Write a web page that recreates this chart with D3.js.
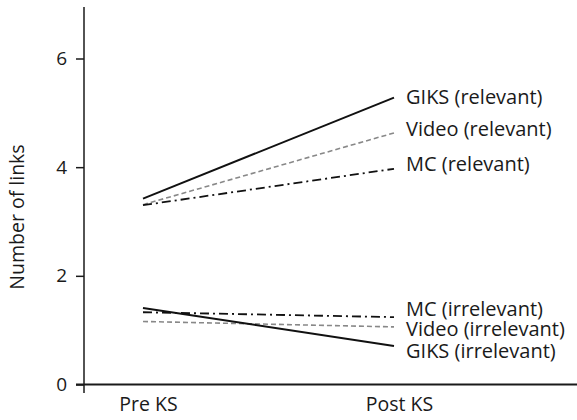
<!DOCTYPE html>
<html><head><meta charset="utf-8">
<script src="https://cdn.jsdelivr.net/npm/d3@7"></script>
<style>body{margin:0;background:#fff}text{font-family:"Open Sans",sans-serif;fill:#1a1a1a}</style>
</head><body><svg id="c" width="577" height="420"></svg>
<script>
const categories = ["Pre KS", "Post KS"];
const seriesNames = ["GIKS (relevant)", "Video (relevant)", "MC (relevant)", "MC (irrelevant)", "Video (irrelevant)", "GIKS (irrelevant)"];
const giksRelevant = [3.42, 5.28];
const videoRelevant = [3.31, 4.63];
const mcRelevant = [3.30, 3.97];
const mcIrrelevant = [1.33, 1.24];
const videoIrrelevant = [1.16, 1.06];
const giksIrrelevant = [1.41, 0.71];
const labelValues = [5.3, 4.7, 4.05, 1.39, 1.03, 0.62];
const yTicks = [0, 2, 4, 6];
const seriesStyle = ["solid", "dash", "dashdot", "dashdot", "dash", "solid"];

const values = [giksRelevant, videoRelevant, mcRelevant, mcIrrelevant, videoIrrelevant, giksIrrelevant];
const svg = d3.select("#c");
const y = d3.scaleLinear().domain([0, 6]).range([384.5, 58.5]);
const x = d3.scalePoint().domain(categories).range([143, 394]);
const FS = 20;

// y axis
const yAxis = svg.append("g").attr("transform", "translate(84,0)")
  .call(d3.axisLeft(y).tickValues(yTicks).tickFormat(d3.format("d")).tickSize(8).tickSizeOuter(0).tickPadding(9));
yAxis.select(".domain").remove();
yAxis.selectAll("line").attr("stroke", "#1a1a1a").attr("stroke-width", 1.5);
yAxis.selectAll("text").attr("font-size", 19).attr("font-family", "Open Sans, sans-serif").attr("fill", "#1a1a1a");
svg.append("line").attr("x1", 84).attr("x2", 84).attr("y1", 7).attr("y2", 393).attr("stroke", "#1a1a1a").attr("stroke-width", 1.5);

// x axis
svg.append("line").attr("x1", 76).attr("x2", 577).attr("y1", y(0)).attr("y2", y(0)).attr("stroke", "#1a1a1a").attr("stroke-width", 1.8);
const xAxis = svg.append("g").attr("transform", `translate(5,${y(0)})`)
  .call(d3.axisBottom(x).tickSize(0).tickPadding(13));
xAxis.select(".domain").remove();
xAxis.selectAll("text").attr("font-size", 19.5).attr("font-family", "Open Sans, sans-serif").attr("fill", "#1a1a1a");

svg.append("text").attr("transform", "translate(24,217) rotate(-90)").attr("text-anchor", "middle")
  .attr("font-size", 19.5).attr("font-family", "Liberation Sans, Arial, sans-serif").text("Number of links");

const line = d3.line().x((d, i) => x(categories[i])).y(d => y(d));
const styles = {
  solid: {stroke: "#111", width: 2, dash: null},
  dash: {stroke: "#888", width: 1.6, dash: "5,3"},
  dashdot: {stroke: "#111", width: 1.8, dash: "9,4,2,4"}
};
values.forEach((v, i) => {
  const s = styles[seriesStyle[i]];
  svg.append("path").datum(v).attr("d", line).attr("fill", "none")
    .attr("stroke", s.stroke).attr("stroke-width", s.width)
    .attr("stroke-dasharray", s.dash);
  svg.append("text").attr("x", x(categories[1]) + 12).attr("y", y(labelValues[i]))
    .attr("dy", "0.35em").attr("font-size", FS).text(seriesNames[i]);
});
</script></body></html>
